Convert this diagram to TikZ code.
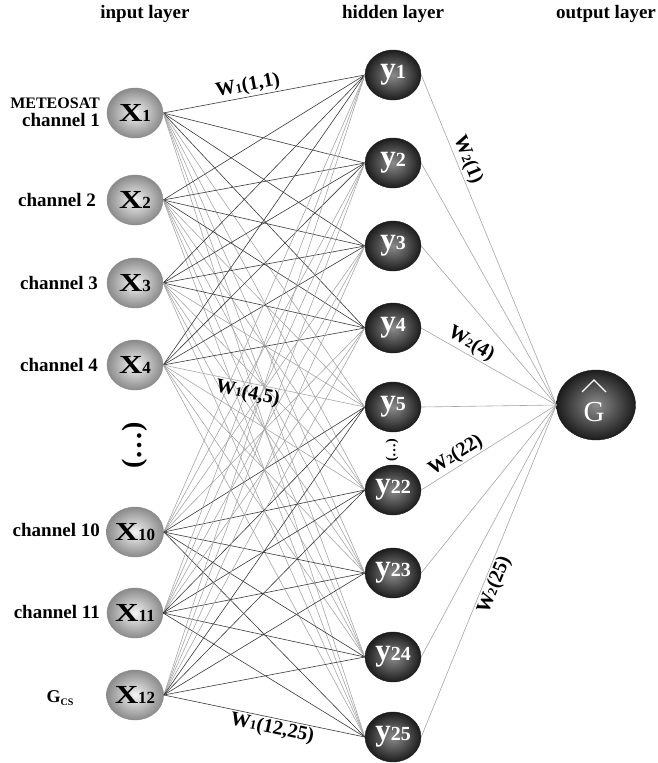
\documentclass[tikz,border=0pt]{standalone}
\usepackage{fontspec}
\setmainfont{Liberation Serif}
\usepackage{xcolor}
\usepackage{tikz}
\usetikzlibrary{shapes.geometric}
\definecolor{wire}{HTML}{383838}
\definecolor{pale}{HTML}{A6A6A6}
\definecolor{ballin}{HTML}{F4F4F4}
\definecolor{ballout}{HTML}{8A8A8A}
\definecolor{darkin}{HTML}{8C8C8C}
\definecolor{darkout}{HTML}{1C1C1C}
\newcommand{\fsz}[1]{\fontsize{#1}{#1}\selectfont}
\newcommand{\xlab}[1]{{\fsz{26}\scalebox{1.25}[1]{X}}{\fsz{17}#1}}
\newcommand{\ylab}[1]{{\fsz{31}y}{\fsz{20}#1}}
\newcommand{\wlab}[2]{W{\fsz{13}#1}(#2)}
\tikzset{
  every node/.style={font=\bfseries},
  innode/.style={ellipse,minimum width=56pt,minimum height=50pt,inner sep=0pt,
                 draw=ballout,inner color=ballin,outer color=ballout},
  hidnode/.style={ellipse,minimum width=56pt,minimum height=50pt,inner sep=0pt,
                  draw=darkout,inner color=darkin,outer color=darkout,text=white},
  outnode/.style={hidnode,minimum width=79pt,minimum height=70pt},
  chan/.style={font=\bfseries\fsz{19},anchor=east,inner sep=0pt,align=right},
  head/.style={font=\bfseries\fsz{19}},
  wl/.style={font=\bfseries\fsz{20},sloped,inner sep=1.5pt},
  dark/.style={draw=wire,line width=0.6pt},
  faint/.style={draw=pale,line width=0.6pt},
  hat/.style={draw=white,line width=1.3pt,line join=miter},
}

\begin{document}
\begin{tikzpicture}[x=1pt,y=-1pt]
\useasboundingbox (0,0) rectangle (658,763);

\node[head] (hin) at (145,14) {input layer};
\node[head] (hhid) at (393,14) {hidden layer};
\node[head] (hout) at (606,14) {output layer};

\foreach \i/\yy in {1/113,2/200,3/283,4/365,10/532,11/613,12/695}
  \node[innode] (x\i) at (135,\yy) {\xlab{\i}};
\foreach \j/\yy in {1/75,2/163,3/246,4/328,5/407,22/490,23/573,24/657,25/737}
  \node[hidnode] (y\j) at (393,\yy) {\ylab{\j}};
\node[outnode] (G) at (596,405) {};
\node[text=white,font=\fsz{29}] (gtxt) at (594,412) {G};
\draw[hat] (582,392) -- (594,380) -- (606,392);

\node[chan] (c1) at (100,112) {{\fsz{16}METEOSAT}\\[-1pt]channel 1};
\node[chan] (c2) at (96,200) {channel 2};
\node[chan] (c3) at (98,283) {channel 3};
\node[chan] (c4) at (98,365) {channel 4};
\node[chan] (c10) at (100,530) {channel 10};
\node[chan] (c11) at (100,612) {channel 11};
\node[font=\bfseries\fsz{18}] (gcs) at (60,698) {G{\fsz{10}\raisebox{-3pt}{CS}}};

\node[rotate=90,font=\bfseries\fsz{28}] (xdots) at (135,445) {(\ldots)};
\node[rotate=90,font=\bfseries\fsz{14}] (ydots) at (392,450) {(\ldots)};

\foreach \i in {1,2,3,4,10,11,12}
  \foreach \j in {1,2,3,4,5,22,23,24,25}{
    \pgfmathtruncatemacro\far{(\i<5 && \j>4) || (\i>9 && \j<5)}
    \ifnum\far=1 \draw[faint] (x\i.east) -- (y\j.west);
    \else \draw[dark] (x\i.east) -- (y\j.west); \fi
  }
\foreach \j in {1,2,3,4,5,22,23,24,25}
  \draw[faint] (y\j.east) -- (G.west);

\path (x1.east) -- (y1.west) node[wl,pos=0.43,above] {\wlab{1}{1,1}};
\path (x4.east) -- (y5.west) node[wl,pos=0.43,below] {\wlab{1}{4,5}};
\path (x12.east) -- (y25.west) node[wl,pos=0.55,below] {\wlab{1}{12,25}};
\path (y1.east) -- (G.west) node[wl,pos=0.27,above] {\wlab{2}{1}};
\path (y4.east) -- (G.west) node[wl,pos=0.33,above] {\wlab{2}{4}};
\path (y22.east) -- (G.west) node[wl,pos=0.30,above] {\wlab{2}{22}};
\path (y25.east) -- (G.west) node[wl,pos=0.47,below] {\wlab{2}{25}};
\end{tikzpicture}
\end{document}
